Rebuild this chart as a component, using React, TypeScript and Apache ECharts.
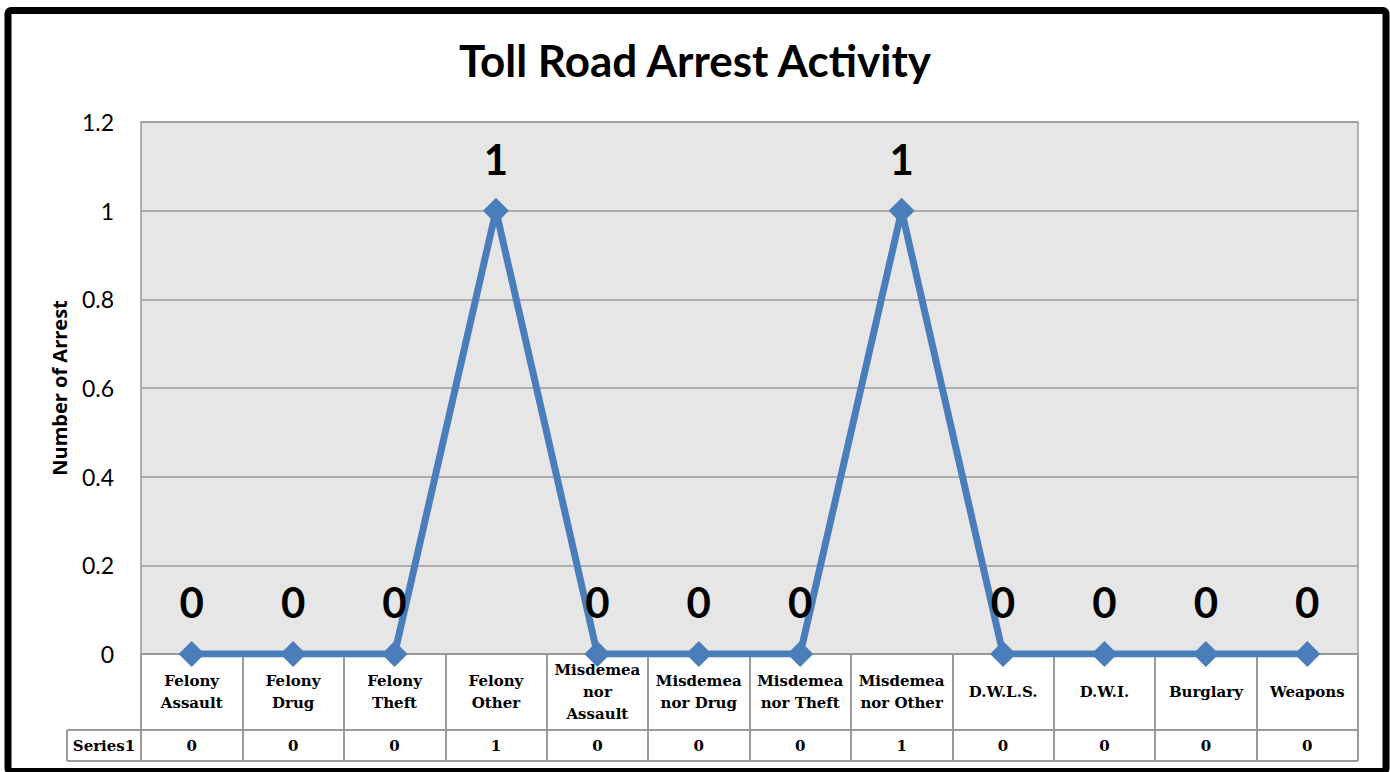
import React, { useEffect, useRef } from "react";
import * as echarts from "echarts";

const title = "Toll Road Arrest Activity";
const yAxisName = "Number of Arrest";
const seriesName = "Series1";
const categories = [
  "Felony\nAssault",
  "Felony\nDrug",
  "Felony\nTheft",
  "Felony\nOther",
  "Misdemea\nnor\nAssault",
  "Misdemea\nnor Drug",
  "Misdemea\nnor Theft",
  "Misdemea\nnor Other",
  "D.W.L.S.",
  "D.W.I.",
  "Burglary",
  "Weapons",
];
const values = [0, 0, 0, 1, 0, 0, 0, 1, 0, 0, 0, 0];
const yTicks = { min: 0, max: 1.2, interval: 0.2 };

const W = 1390;
const H = 772;
const gridLeft = 141;
const gridRight = 1358;
const gridTop = 122;
const gridBottom = 654;
const tableLeft = 67;
const rowMid = 730;
const rowBottom = 761;

const sans = "Lato, 'Open Sans', sans-serif";
const sans2 = "'Open Sans', sans-serif";
const serif = "'DejaVu Serif', serif";

export default function App() {
  const ref = useRef<HTMLDivElement>(null);
  useEffect(() => {
    document.body.style.margin = "0";
    const chart = echarts.init(ref.current!, null, { renderer: "svg" });
    const gray = "#9a9a9a";
    chart.setOption({
      animation: false,
      backgroundColor: "#ffffff",
      title: {
        text: title,
        left: "center",
        top: 33,
        textStyle: { fontFamily: sans, fontWeight: "bold", fontSize: 44, color: "#000" },
      },
      grid: {
        left: gridLeft,
        right: W - gridRight,
        top: gridTop,
        bottom: H - gridBottom,
        show: true,
        backgroundColor: "#e6e6e6",
        borderColor: gray,
        borderWidth: 1.5,
      },
      xAxis: [
        {
          type: "category",
          data: categories,
          boundaryGap: true,
          axisLine: { show: true, lineStyle: { color: gray, width: 2 } },
          axisTick: { show: true, length: rowBottom - gridBottom, lineStyle: { color: gray, width: 2 } },
          axisLabel: {
            interval: 0,
            margin: 38,
            verticalAlign: "middle",
            fontFamily: serif,
            fontWeight: "bold",
            fontSize: 15,
            lineHeight: 22,
            color: "#000",
          },
          splitLine: { show: false },
        },
        {
          type: "category",
          data: categories,
          position: "bottom",
          boundaryGap: true,
          axisLine: { show: false },
          axisTick: { show: false },
          axisLabel: {
            interval: 0,
            margin: (rowMid + rowBottom) / 2 - gridBottom,
            verticalAlign: "middle",
            fontFamily: serif,
            fontWeight: "bold",
            fontSize: 15,
            color: "#000",
            formatter: (_v: string, i: number) => String(values[i]),
          },
          splitLine: { show: false },
        },
      ],
      yAxis: {
        type: "value",
        min: yTicks.min,
        max: yTicks.max,
        interval: yTicks.interval,
        name: yAxisName,
        nameLocation: "middle",
        nameGap: 72,
        nameTextStyle: { fontFamily: sans2, fontWeight: "bold", fontSize: 20, color: "#000" },
        axisLine: { show: false },
        axisTick: { show: false },
        axisLabel: {
          margin: 27,
          fontFamily: sans,
          fontSize: 23,
          color: "#000",
          formatter: (v: number) => String(Math.round(v * 10) / 10),
        },
        splitLine: { show: true, lineStyle: { color: gray, width: 1.5 } },
      },
      series: [
        {
          name: seriesName,
          type: "line",
          data: values,
          symbol: "diamond",
          symbolSize: 26,
          itemStyle: { color: "#4a7ebb" },
          lineStyle: { color: "#4a7ebb", width: 7 },
          label: {
            show: true,
            position: "top",
            distance: 18,
            fontFamily: sans,
            fontWeight: "bold",
            fontSize: 42,
            color: "#000",
          },
          z: 5,
        },
      ],
      graphic: [
        {
          type: "line",
          shape: { x1: tableLeft, y1: rowMid, x2: gridRight, y2: rowMid },
          style: { stroke: gray, lineWidth: 2 },
        },
        {
          type: "line",
          shape: { x1: tableLeft, y1: rowBottom, x2: gridRight, y2: rowBottom },
          style: { stroke: gray, lineWidth: 2 },
        },
        {
          type: "line",
          shape: { x1: tableLeft, y1: rowMid, x2: tableLeft, y2: rowBottom },
          style: { stroke: gray, lineWidth: 2 },
        },
        {
          type: "text",
          x: (tableLeft + gridLeft) / 2,
          y: (rowMid + rowBottom) / 2,
          style: {
            text: seriesName,
            fill: "#000",
            font: `bold 15px ${serif}`,
            textAlign: "center",
            textVerticalAlign: "middle",
          },
        },
        {
          type: "rect",
          shape: { x: 8, y: 10.5, width: 1378, height: 761, r: 3 },
          style: { fill: "none", stroke: "#000", lineWidth: 7 },
          z: 100,
        },
      ],
    });
    return () => chart.dispose();
  }, []);
  return (
    <div
      ref={ref}
      style={{ position: "absolute", left: 0, top: 0, width: W, height: H }}
    />
  );
}
